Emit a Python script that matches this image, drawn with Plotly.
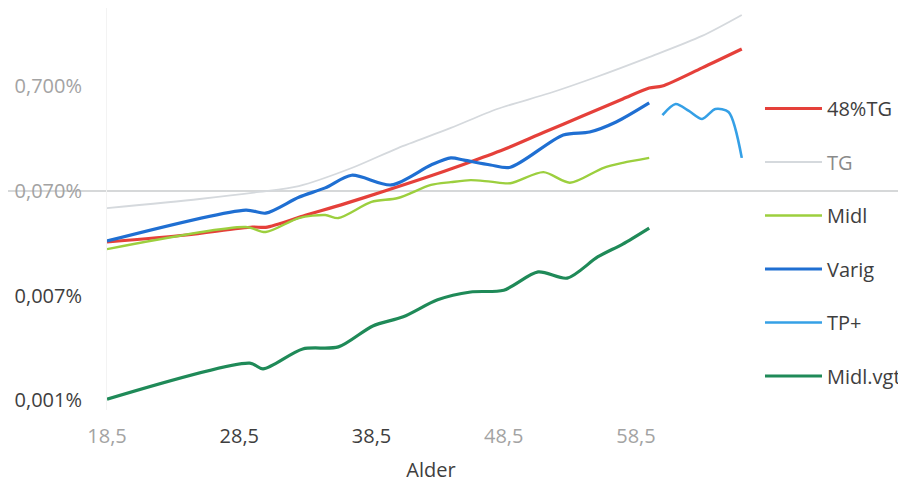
import math
import plotly.graph_objects as go

# ---------------- data (values in percent) ----------------
tg48_age = [18.5, 24.5, 29.5, 30.5, 33.5, 36.5, 39.5, 42.5, 45.5, 48.5, 51.5, 54.5, 57.5, 59.5, 60.5, 63.5, 66.5]
tg48_val = [0.0228, 0.0266, 0.0317, 0.0315, 0.041, 0.053, 0.070, 0.093, 0.126, 0.174, 0.253, 0.366, 0.530, 0.674, 0.705, 1.05, 1.59]

tg_age = [18.5, 25.5, 30.0, 33.0, 37.0, 40.5, 44.5, 48.0, 52.0, 55.5, 59.5, 63.5, 66.5]
tg_val = [0.048, 0.0587, 0.0685, 0.078, 0.116, 0.18, 0.28, 0.425, 0.604, 0.859, 1.33, 2.12, 3.36]

midl_age = [18.5, 29.0, 30.5, 33.0, 35.0, 36.0, 38.5, 40.5, 43.0, 44.5, 46.0, 47.5, 49.0, 51.5, 53.5, 56.0, 57.5, 59.5]
midl_val = [0.0195, 0.0317, 0.0284, 0.0386, 0.0413, 0.0386, 0.055, 0.060, 0.080, 0.085, 0.089, 0.086, 0.083, 0.106, 0.084, 0.116, 0.130, 0.145]

varig_age = [18.5, 29.0, 30.5, 33.0, 35.0, 37.0, 40.0, 43.0, 44.5, 45.5, 47.5, 49.0, 53.0, 55.0, 57.0, 59.5]
varig_val = [0.0233, 0.046, 0.043, 0.061, 0.075, 0.099, 0.080, 0.124, 0.145, 0.138, 0.124, 0.118, 0.240, 0.256, 0.319, 0.485]

tp_age = [60.5, 61.5, 62.5, 63.5, 64.5, 65.5, 66.5]
tp_val = [0.372, 0.474, 0.407, 0.341, 0.425, 0.398, 0.145]

mv_age = [18.5, 29.3, 30.3, 33.3, 36.0, 38.6, 40.9, 43.5, 46.0, 48.5, 51.1, 53.3, 55.6, 57.5, 59.5]
mv_val = [0.00072, 0.00159, 0.0014, 0.00217, 0.00227, 0.0036, 0.0044, 0.0064, 0.0076, 0.0079, 0.0118, 0.0103, 0.0164, 0.0218, 0.031]

x_tickvals = [18.5, 28.5, 38.5, 48.5, 58.5]
x_ticklabels = ["18,5", "28,5", "38,5", "48,5", "58,5"]
y_tickvals = [0.0007, 0.007, 0.07, 0.7]
y_ticklabels = ["0,001%", "0,007%", "0,070%", "0,700%"]
ref_line_value = 0.07

# ---------------- styling ----------------
LIGHT = "#a3a3a3"
DARK = "#3e3e3e"
x_label_colors = [LIGHT, DARK, DARK, LIGHT, LIGHT]
y_label_colors = [DARK, DARK, LIGHT, LIGHT]

series = [
    ("48%TG", tg48_age, tg48_val, "#e5403a", 3.2, DARK),
    ("TG", tg_age, tg_val, "#d5d9dd", 1.8, "#8a8a8a"),
    ("Midl", midl_age, midl_val, "#9ccf3e", 2.4, DARK),
    ("Varig", varig_age, varig_val, "#1f6fd2", 3.2, DARK),
    ("TP+", tp_age, tp_val, "#35a0e6", 2.6, DARK),
    ("Midl.vgt", mv_age, mv_val, "#1f8a58", 3.2, DARK),
]

fig = go.Figure()
for i, (name, xs, ys, color, w, tcol) in enumerate(series):
    fig.add_trace(go.Scatter(
        x=xs, y=ys, mode="lines", name=f"<span style='color:{tcol}'>{name}</span>",
        line=dict(color=color, width=w, shape="spline", smoothing=0.8),
        legendgroup=f"g{i}", hoverinfo="skip",
    ))

y_range = [-3.2466, 0.5929]
ref_frac = (math.log10(ref_line_value) - y_range[0]) / (y_range[1] - y_range[0])

fig.add_shape(type="line", xref="paper", yref="paper", x0=-0.5, x1=1.6,
              y0=ref_frac, y1=ref_frac, line=dict(color="#c9cbcd", width=1.6), layer="below")

fig.update_layout(
    width=898, height=475,
    margin=dict(l=99, r=151, t=0, b=73),
    paper_bgcolor="white", plot_bgcolor="white",
    separators=", ",
    font=dict(family="Open Sans", size=20, color=DARK),
    showlegend=True,
    legend=dict(x=1.0077, xanchor="left", y=0.7985, yanchor="top",
                font=dict(size=20, color=DARK), tracegroupgap=24.5,
                itemwidth=57, bgcolor="rgba(0,0,0,0)"),
    xaxis=dict(range=[18.5, 67.5], tickvals=x_tickvals,
               ticktext=[f"<span style='color:{c}'>{t}</span>" for t, c in zip(x_ticklabels, x_label_colors)],
               showgrid=False, zeroline=False, showline=False, ticks="",
               ticklabelstandoff=12,
               title=dict(text="Alder", font=dict(size=20, color=DARK), standoff=20)),
    yaxis=dict(type="log", range=y_range, tickvals=y_tickvals,
               ticktext=[f"<span style='color:{c}'>{t}</span>" for t, c in zip(y_ticklabels, y_label_colors)],
               showgrid=False, zeroline=False, showline=True, linecolor="#f3f3f3", linewidth=1,
               ticks="", ticklabelstandoff=20),
)

fig.write_html("out.html")
